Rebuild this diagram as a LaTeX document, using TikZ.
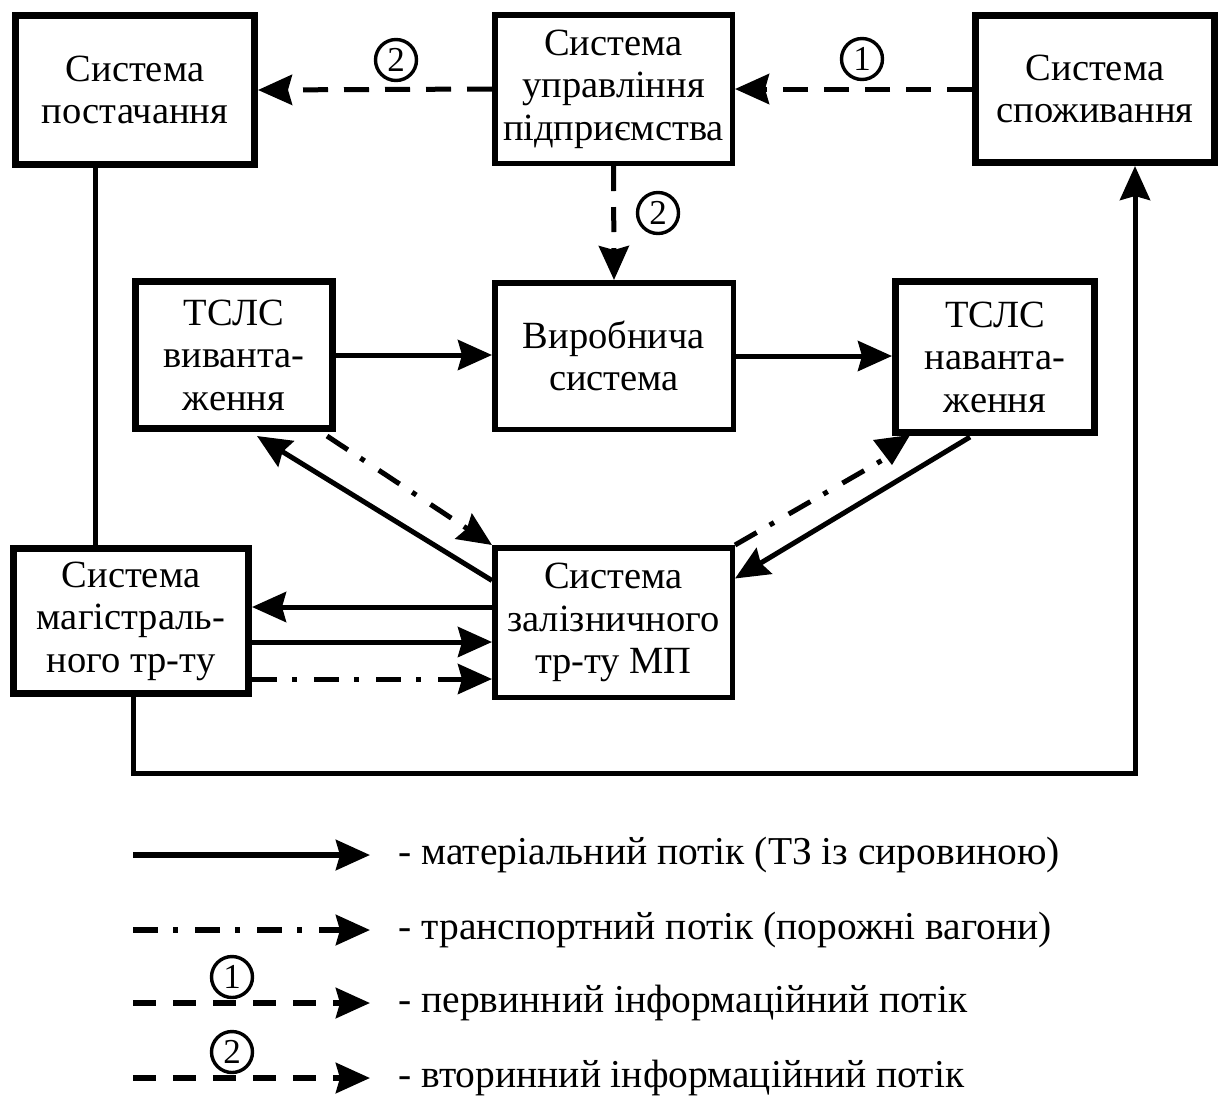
\documentclass[tikz,border=0pt]{standalone}
\usepackage{fontspec}
\setmainfont{Liberation Serif}
\usetikzlibrary{arrows.meta,calc}

\begin{document}
\begin{tikzpicture}[x=1pt,y=-1pt,
  >={Stealth[length=34pt,width=30pt,inset=4pt]},
  every node/.style={font=\fontsize{38.5}{42.5}\selectfont},
  heavybox/.style={draw, line width=7pt, align=center, inner sep=0pt},
  lightbox/.style={draw, line width=5.5pt, align=center, inner sep=0pt},
  matflow/.style={line width=5pt, ->},
  transflow/.style={line width=5pt, ->, dash pattern=on 25pt off 15pt on 5pt off 17pt},
  transline/.style={line width=5pt, dash pattern=on 25pt off 15pt on 5pt off 17pt},
  infoflow/.style={line width=5pt, ->, dash pattern=on 25pt off 16pt},
  plainline/.style={line width=5pt},
  num/.style={draw, circle, line width=3.4pt, minimum size=41pt, inner sep=0pt,
    font=\fontsize{35}{35}\selectfont},
  legendtext/.style={anchor=west, font=\fontsize{39.5}{42}\selectfont},
]
\useasboundingbox (0,0) rectangle (1222,1104);

% blocks of the system
\node[heavybox, minimum width=239pt, minimum height=149pt] (post) at (135,90) {Система\\постачання};
\node[lightbox, minimum width=237.5pt, minimum height=148.5pt] (uprav) at (613.5,89) {Система\\управління\\підприємства};
\node[heavybox, minimum width=239pt, minimum height=147pt] (spoz) at (1095,89) {Система\\споживання};
\node[heavybox, minimum width=197pt, minimum height=147pt] (tslsA) at (234,355) {ТСЛС\\виванта-\\ження};
\node[lightbox, minimum width=238.5pt, minimum height=146.5pt] (vyrob) at (614,356) {Виробнича\\система};
\node[heavybox, minimum width=199pt, minimum height=151pt] (tslsB) at (995,357) {ТСЛС\\наванта-\\ження};
\node[heavybox, minimum width=235pt, minimum height=145pt] (mag) at (131,621) {Система\\магістраль-\\ного тр-ту};
\node[lightbox, minimum width=237.5pt, minimum height=149.5pt] (zal) at (613.5,622.5) {Система\\залізничного\\тр-ту МП};

% information flows
\draw[infoflow] (uprav.west) -- (post.east);
\draw[infoflow] (spoz.west) -- (uprav.east);
\draw[infoflow] (uprav.south) -- (vyrob.north);
\node[num] (n2a) at (396,60) {2};
\node[num] (n1a) at (862,59) {1};
\node[num] (n2b) at (658,213) {2};

% material flows through production
\draw[matflow] (tslsA.east) -- (tslsA.east -| vyrob.west);
\draw[matflow] (vyrob.east) -- (vyrob.east -| tslsB.west);

% links with the railway system
\draw[matflow] ([yshift=42pt]zal.west) -- ([xshift=23pt,yshift=-4pt]tslsA.south);
\draw[transflow] ([xshift=93pt,yshift=-4pt]tslsA.south) -- (zal.north west);
\draw[matflow] ([xshift=-25pt,yshift=-1pt]tslsB.south) -- ([yshift=44pt]zal.east);
\coordinate (tB) at ([xshift=-6pt,yshift=-22pt]tslsB.south west);
\draw[transline] (zal.north east) -- (tB);
\fill ([xshift=-19pt,yshift=-4pt]tslsB.south west) -- ([xshift=18pt,yshift=1pt]tslsB.south west)
  -- ([yshift=-29pt]tslsB.south west) -- cycle;

% trunk transport <-> railway
\coordinate (ya) at (0,607);
\coordinate (yb) at (0,642);
\coordinate (yc) at (0,679);
\draw[matflow] (zal.west |- ya) -- (mag.east |- ya);
\draw[matflow] (mag.east |- yb) -- (zal.west |- yb);
\draw[transflow] (mag.east |- yc) -- (zal.west |- yc);

% supply and consumption links
\coordinate (xa) at (95,0);
\draw[plainline] (post.south -| xa) -- (mag.north -| xa);
\coordinate (xb) at (1135,773);
\draw[matflow] ([xshift=2pt]mag.south) |- (xb) -- (spoz.south -| xb);

% legend
\coordinate (l1) at (133,855);
\coordinate (l2) at (133,930);
\coordinate (l3) at (133,1003);
\coordinate (l4) at (133,1078);
\draw[line width=6pt, ->] (l1) -- ++(237,0);
\draw[line width=6pt, ->, dash pattern=on 25pt off 15pt on 5pt off 17pt] (l2) -- ++(237,0);
\draw[line width=6pt, ->, dash pattern=on 23pt off 17pt] (l3) -- ++(237,0);
\draw[line width=6pt, ->, dash pattern=on 23pt off 17pt] (l4) -- ++(237,0);
\node[num] (n1l) at (232,977) {1};
\node[num] (n2l) at (232,1052) {2};
\node[legendtext] (t1) at (395,855) {- матеріальний потік (ТЗ із сировиною)};
\node[legendtext] (t2) at (395,930) {- транспортний потік (порожні вагони)};
\node[legendtext] (t3) at (395,1003) {- первинний інформаційний потік};
\node[legendtext] (t4) at (395,1078) {- вторинний інформаційний потік};
\end{tikzpicture}
\end{document}
